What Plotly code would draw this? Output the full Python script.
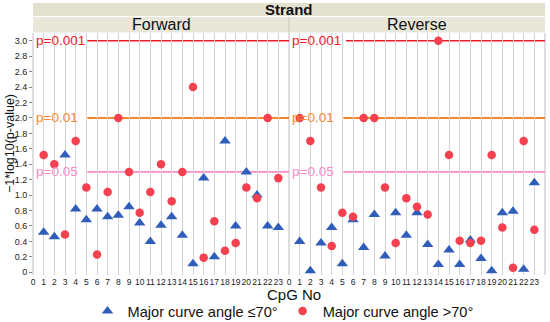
import plotly.graph_objects as go

# ---- data ----
cpg_no = list(range(1, 24))
tick_labels_x = [str(i) for i in range(0, 24)]
fwd_le70 = [0.52, 0.46, 1.52, 0.82, 0.68, 0.82, 0.72, 0.74, 0.85, 0.64, 0.40, 0.61,
            0.72, 0.48, 0.11, 1.22, 0.20, 1.70, 0.60, 1.30, 1.00, 0.60, 0.58]
fwd_gt70 = [1.52, 1.40, 0.49, 1.70, 1.10, 0.23, 1.04, 2.00, 1.30, 0.77, 1.04, 1.40,
            0.92, 1.30, 2.40, 0.19, 0.66, 0.28, 0.38, 1.10, 0.96, 2.00, 1.22]
rev_le70 = [0.40, 0.02, 0.38, 0.58, 0.11, 0.68, 0.32, 0.75, 0.21, 0.77, 0.48, 0.77,
            0.36, 0.10, 0.29, 0.10, 0.42, 0.18, 0.02, 0.77, 0.79, 0.04, 1.16]
rev_gt70 = [2.00, 1.70, 1.10, 0.34, 0.77, 0.72, 2.00, 2.00, 1.10, 0.38, 0.96, 0.85,
            0.75, 3.00, 1.52, 0.41, 0.38, 0.41, 1.52, 0.58, 0.06, 1.70, 0.55]
ref_levels = [3.0, 2.0, 1.30103]
ref_labels = ["p=0.001", "p=0.01", "p=0.05"]
ref_colors = ["#ee1c2a", "#f7862a", "#f78cc8"]
ref_widths = [1.6, 2.0, 1.6]
y_tickvals = [0, 0.2, 0.4, 0.6, 0.8, 1.0, 1.2, 1.4, 1.6, 1.8, 2.0, 2.2, 2.4, 2.6, 2.8, 3.0]
y_ticktext = ["0", "0.2", "0.4", "0.6", "0.8", "1.0", "1.2", "1.4", "1.6", "1.8",
              "2.0", "2.2", "2.4", "2.6", "2.8", "3.0"]

BLUE = "#2f5db9"
RED = "#f5414f"
FONT = "Liberation Sans"

fig = go.Figure()
for xa, le, show in [("x", fwd_le70, True), ("x2", rev_le70, False)]:
    fig.add_trace(go.Scatter(x=cpg_no, y=le, mode="markers", xaxis=xa, yaxis="y",
                             name="Major curve angle \u226470\u00b0", showlegend=show,
                             legendgroup="a",
                             marker=dict(symbol="triangle-up", size=10, color=BLUE)))
for xa, gt, show in [("x", fwd_gt70, True), ("x2", rev_gt70, False)]:
    fig.add_trace(go.Scatter(x=cpg_no, y=gt, mode="markers", xaxis=xa, yaxis="y",
                             name="Major curve angle >70\u00b0", showlegend=show,
                             legendgroup="b",
                             marker=dict(symbol="circle", size=8.5, color=RED)))

shapes = []
annotations = []
# reference lines + labels
for lvl, lab, col, w in zip(ref_levels, ref_labels, ref_colors, ref_widths):
    for xa, start in [("x", 5.1), ("x2", 5.35 if lvl == 3.0 else 5.1)]:
        shapes.append(dict(type="line", xref=xa, yref="y", x0=start, x1=24, y0=lvl, y1=lvl,
                           line=dict(color=col, width=w), layer="below"))
        annotations.append(dict(xref=xa, yref="y", x=0.1, y=lvl, text=lab, showarrow=False,
                                xanchor="left", yanchor="middle",
                                font=dict(family=FONT, size=13.5, color=col)))

# header bands (paper coords: plot area is pixels 33..275 vertically)
def py(p):
    return (275 - p) / 242.0

def px(p):
    return (p - 33) / 512.0

shapes.append(dict(type="rect", xref="paper", yref="paper", x0=0, x1=1, y0=py(16), y1=py(3),
                   fillcolor="#e2e0cf", line=dict(width=0), layer="below"))
shapes.append(dict(type="rect", xref="paper", yref="paper", x0=0, x1=1, y0=py(32.5), y1=py(17),
                   fillcolor="#e9e7d9", line=dict(width=0), layer="below"))
shapes.append(dict(type="line", xref="paper", yref="paper", x0=0.5, x1=0.5, y0=py(32.5), y1=py(17),
                   line=dict(color="#c8c6b8", width=1)))
# panel borders
for xp in [0, 0.5, 1]:
    shapes.append(dict(type="line", xref="paper", yref="paper", x0=xp, x1=xp, y0=0, y1=1,
                       line=dict(color="#bdbdbd", width=1), layer="below"))

annotations.append(dict(xref="paper", yref="paper", x=0.5, y=py(9.5), text="<b>Strand</b>",
                        showarrow=False, xanchor="center", yanchor="middle",
                        font=dict(family=FONT, size=15, color="#111")))
annotations.append(dict(xref="paper", yref="paper", x=0.25, y=py(24.5), text="Forward",
                        showarrow=False, xanchor="center", yanchor="middle",
                        font=dict(family=FONT, size=16, color="#111")))
annotations.append(dict(xref="paper", yref="paper", x=0.75, y=py(24.5), text="Reverse",
                        showarrow=False, xanchor="center", yanchor="middle",
                        font=dict(family=FONT, size=16, color="#111")))
annotations.append(dict(xref="paper", yref="paper", x=px(294), y=py(294), text="CpG No",
                        showarrow=False, xanchor="center", yanchor="middle",
                        font=dict(family=FONT, size=15, color="#111")))
annotations.append(dict(xref="paper", yref="paper", x=px(10), y=py(144),
                        text="\u22121*log10(p-value)", textangle=-90,
                        showarrow=False, xanchor="center", yanchor="middle",
                        font=dict(family=FONT, size=12.5, color="#111")))

xaxis_common = dict(range=[0, 24], tickmode="array", tickvals=list(range(0, 24)),
                    ticktext=tick_labels_x, showgrid=True, gridcolor="#d4d4d4", gridwidth=1,
                    zeroline=False, showline=False, ticks="", anchor="y", tickangle=0,
                    automargin=False,
                    tickfont=dict(family=FONT, size=8.5, color="#222"))

fig.update_layout(
    width=550, height=322,
    margin=dict(l=33, r=5, t=33, b=47, autoexpand=False),
    paper_bgcolor="white", plot_bgcolor="white",
    xaxis=dict(domain=[0, 0.5], **xaxis_common),
    xaxis2=dict(domain=[0.5, 1], **xaxis_common),
    yaxis=dict(range=[-0.035, 3.1], tickmode="array", tickvals=y_tickvals, ticktext=y_ticktext,
               showgrid=False, zeroline=False, showline=False, ticks="outside", ticklen=3,
               automargin=False,
               tickcolor="#888", tickfont=dict(family=FONT, size=9, color="#222")),
    shapes=shapes, annotations=annotations,
    legend=dict(orientation="h", xanchor="center", x=px(283), yanchor="middle", y=py(311),
                font=dict(family=FONT, size=14.6, color="#111"), itemwidth=30,
                bgcolor="rgba(0,0,0,0)"),
    showlegend=True,
)

fig.write_html("out.html", config={"displayModeBar": False},
               post_script="document.body.style.margin='0';")
